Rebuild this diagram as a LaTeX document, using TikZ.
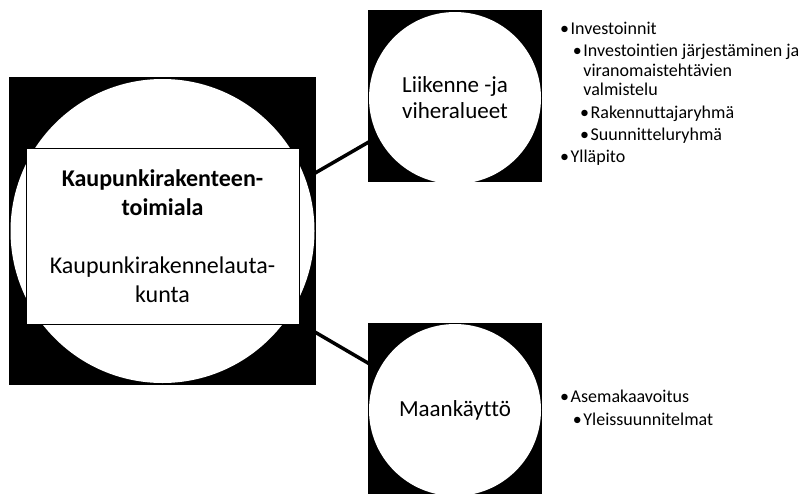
\documentclass[tikz,border=0pt]{standalone}
\usepackage{fontspec}
\setmainfont{Carlito}[Ligatures=NoCommon]
\usetikzlibrary{calc, backgrounds}
\newcommand{\blt}[2]{\hspace*{#1}\makebox[10.5pt][l]{\textbullet}#2}

\begin{document}
\begin{tikzpicture}[
    x=1pt, y=-1pt,
    sq/.style={fill=black, inner sep=0pt},
    disc/.style={circle, fill=white, inner sep=0pt, align=center, font=\fontsize{23}{26}\selectfont},
    card/.style={draw, line width=0.8pt, fill=white, inner sep=0pt, minimum width=273pt, minimum height=176pt, align=center, font=\fontsize{24}{29}\selectfont},
    link/.style={line width=3.5pt, shorten <=-3pt, shorten >=-3pt},
    notes/.style={anchor=base west, align=left, inner sep=0pt, font=\fontsize{18}{19.7}\selectfont}
  ]
    \useasboundingbox (0,0) rectangle (811,493);

    % Toimiala
    \node[sq, minimum width=307pt, minimum height=308pt] (hubsq) at (162.5,231) {};
    \node[disc, minimum size=304pt] (hub) at (hubsq) {};
    \node[card] (unit) at (162.5,236) {\textbf{Kaupunkirakenteen-}\\\textbf{toimiala}\\[29pt]Kaupunkirakennelauta-\\kunta};

    % Palvelualueet
    \node[sq, minimum width=174pt, minimum height=172pt] (liiksq) at (455,96) {};
    \node[disc, minimum size=172pt, yshift=-2pt] (liik) at (liiksq) {Liikenne -ja\\viheralueet};
    \node[sq, minimum size=174pt] (maasq) at (455,410) {};
    \node[disc, minimum size=172pt] (maa) at (maasq) {Maankäyttö};

    % Links
    \begin{scope}[on background layer]
      \draw[link] ($(hubsq.north east)!0.31!(hubsq.south east)$) -- ($(liiksq.north west)!0.77!(liiksq.south west)$);
      \draw[link] ($(hubsq.north east)!0.83!(hubsq.south east)$) -- ($(maasq.north west)!0.23!(maasq.south west)$);
    \end{scope}

    % Tehtavat (base = last line)
    \node[notes] (liiknotes) at (560,162.3) {\blt{0pt}{Investoinnit}\\[2.7pt]
      \blt{12.7pt}{Investointien järjestäminen ja}\\
      \hspace*{23.2pt}viranomaistehtävien\\
      \hspace*{23.2pt}valmistelu\\[3.3pt]
      \blt{20pt}{Rakennuttajaryhmä}\\[2pt]
      \blt{20pt}{Suunnitteluryhmä}\\[2pt]
      \blt{0pt}{Ylläpito}};
    \node[notes] (maanotes) at (560,425) {\blt{0pt}{Asemakaavoitus}\\[2.6pt]
      \blt{12.7pt}{Yleissuunnitelmat}};
  \end{tikzpicture}
\end{document}
